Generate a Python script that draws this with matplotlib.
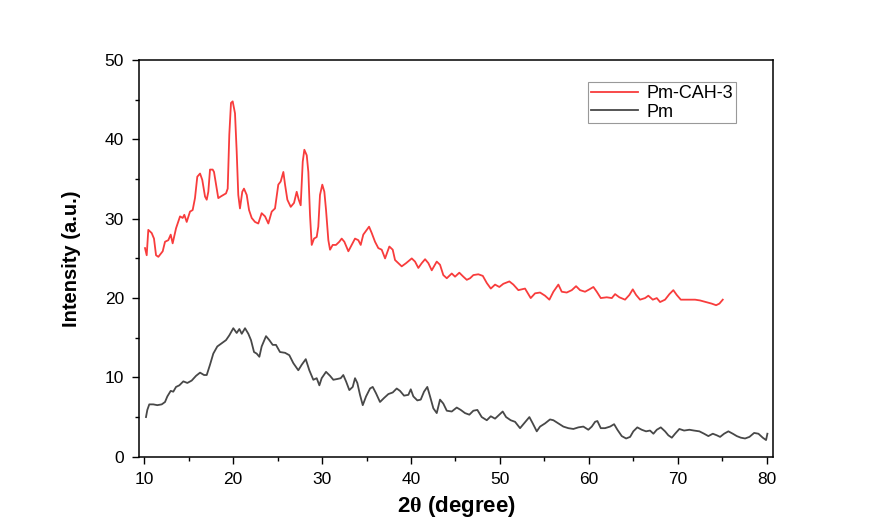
import numpy as np
import matplotlib
matplotlib.use("Agg")
import matplotlib.pyplot as plt
from matplotlib.ticker import MultipleLocator

plt.rcParams["font.family"] = ["Liberation Sans", "DejaVu Sans"]
plt.rcParams["mathtext.fontset"] = "custom"
plt.rcParams["mathtext.rm"] = "Liberation Serif:bold"
plt.rcParams["mathtext.it"] = "Liberation Serif:bold"
plt.rcParams["mathtext.bf"] = "Liberation Serif:bold"

# Pm-CAH-3 (red)
red_x = [10.08, 10.27, 10.45, 10.83, 11.09, 11.32, 11.58, 12.07, 12.33, 12.7,
         12.97, 13.19, 13.57, 14.02, 14.32, 14.5, 14.77, 15.14, 15.44, 15.7,
         15.96, 16.27, 16.52, 16.83, 17.02, 17.2, 17.39, 17.69, 17.84, 18.07,
         18.32, 18.59, 18.89, 19.19, 19.38, 19.56, 19.75, 19.94, 20.2, 20.39,
         20.57, 20.76, 21.02, 21.21, 21.52, 21.78, 22.08, 22.45, 22.82, 23.2,
         23.58, 23.95, 24.33, 24.7, 25.07, 25.34, 25.64, 25.83, 26.09, 26.47,
         26.84, 27.14, 27.37, 27.59, 27.82, 28.0, 28.27, 28.45, 28.64, 28.83,
         29.09, 29.39, 29.57, 29.76, 30.02, 30.25, 30.44, 30.7, 30.89, 31.19,
         31.56, 31.93, 32.2, 32.5, 32.95, 33.33, 33.7, 34.07, 34.34, 34.63,
         35.02, 35.28, 35.58, 35.95, 36.32, 36.7, 37.08, 37.56, 37.94, 38.2,
         38.57, 38.95, 39.44, 40.08, 40.45, 40.82, 41.2, 41.58, 41.95, 42.33,
         42.89, 43.26, 43.63, 44.02, 44.58, 44.95, 45.43, 45.88, 46.27, 46.64,
         47.01, 47.57, 48.07, 48.52, 48.97, 49.45, 49.93, 50.38, 51.06, 51.51,
         52.07, 52.82, 53.46, 53.95, 54.51, 55.07, 55.56, 56.01, 56.57, 56.95,
         57.51, 58.08, 58.56, 59.01, 59.57, 60.06, 60.51, 60.89, 61.34, 62.01,
         62.58, 62.95, 63.43, 64.07, 64.56, 64.94, 65.31, 65.76, 66.32, 66.69,
         67.19, 67.64, 68.01, 68.57, 69.06, 69.5, 69.88, 70.34, 70.82, 71.38,
         71.95, 72.51, 73.18, 73.82, 74.31, 74.68, 75.06]
red_y = [26.3, 25.4, 28.6, 28.2, 27.5, 25.4, 25.2, 25.9, 27.1, 27.3,
         28.0, 26.9, 28.8, 30.3, 30.1, 30.5, 29.6, 30.9, 31.1, 32.6,
         35.3, 35.7, 34.9, 32.8, 32.4, 33.4, 36.2, 36.2, 35.9, 34.3,
         32.6, 32.8, 33.0, 33.2, 33.8, 40.6, 44.6, 44.8, 43.3, 38.5,
         33.0, 31.3, 33.4, 33.8, 33.0, 31.1, 30.1, 29.6, 29.4, 30.7,
         30.3, 29.4, 30.9, 31.3, 34.3, 34.7, 35.9, 34.3, 32.4, 31.5,
         32.0, 33.4, 32.4, 31.7, 37.2, 38.7, 38.0, 35.9, 30.4, 26.7,
         27.5, 27.7, 29.0, 33.0, 34.3, 33.4, 31.1, 27.3, 26.1, 26.7,
         26.7, 27.1, 27.5, 27.1, 25.9, 26.7, 27.5, 27.3, 26.7, 28.0,
         28.6, 29.0, 28.2, 27.1, 26.3, 26.1, 25.0, 26.5, 26.1, 24.8,
         24.4, 24.0, 24.4, 25.0, 24.6, 23.8, 24.4, 24.9, 24.4, 23.5,
         24.6, 24.2, 22.9, 22.5, 23.1, 22.7, 23.2, 22.7, 22.3, 22.5,
         22.9, 23.0, 22.8, 21.9, 21.2, 21.7, 21.4, 21.8, 22.1, 21.7,
         21.0, 21.2, 20.0, 20.6, 20.7, 20.3, 19.8, 20.8, 21.7, 20.8,
         20.7, 21.0, 21.5, 21.0, 20.8, 21.1, 21.4, 20.8, 20.0, 20.1,
         20.0, 20.5, 20.1, 19.8, 20.4, 21.1, 20.4, 19.8, 20.0, 20.3,
         19.8, 20.0, 19.5, 19.8, 20.5, 21.0, 20.4, 19.8, 19.8, 19.8,
         19.8, 19.7, 19.5, 19.3, 19.1, 19.3, 19.8]

# Pm (dark grey)
blk_x = [10.19, 10.34, 10.56, 11.01, 11.46, 11.96, 12.33, 12.59, 12.97, 13.26,
         13.57, 13.94, 14.39, 14.84, 15.33, 15.82, 16.27, 16.72, 17.02, 17.39,
         17.76, 18.21, 18.71, 19.19, 19.56, 20.01, 20.39, 20.69, 20.96, 21.33,
         21.7, 22.0, 22.34, 22.64, 22.94, 23.2, 23.69, 24.06, 24.44, 24.81,
         25.26, 25.83, 26.31, 26.76, 27.32, 27.71, 28.16, 28.56, 29.01, 29.39,
         29.69, 29.95, 30.44, 30.89, 31.26, 31.71, 32.09, 32.38, 32.69, 33.06,
         33.44, 33.7, 33.96, 34.26, 34.57, 34.94, 35.39, 35.69, 36.06, 36.51,
         36.96, 37.45, 37.94, 38.39, 38.76, 39.21, 39.7, 39.97, 40.26, 40.71,
         41.09, 41.46, 41.83, 42.14, 42.51, 42.89, 43.26, 43.63, 44.02, 44.58,
         45.14, 45.59, 46.07, 46.56, 47.01, 47.46, 47.95, 48.52, 48.97, 49.45,
         49.93, 50.31, 50.69, 51.21, 51.7, 52.26, 52.71, 53.31, 53.69, 54.14,
         54.51, 55.07, 55.63, 56.01, 56.57, 57.13, 57.69, 58.26, 58.82, 59.38,
         59.94, 60.33, 60.7, 60.96, 61.34, 61.82, 62.39, 62.84, 63.21, 63.7,
         64.19, 64.64, 65.0, 65.45, 65.95, 66.43, 66.88, 67.26, 67.64, 68.09,
         68.57, 68.94, 69.33, 69.7, 70.18, 70.71, 71.31, 71.83, 72.43, 72.96,
         73.44, 73.94, 74.39, 74.76, 75.21, 75.69, 76.19, 76.64, 77.09, 77.57,
         78.06, 78.59, 79.07, 79.56, 79.93, 80.08]
blk_y = [5.0, 5.9, 6.6, 6.6, 6.5, 6.6, 6.9, 7.6, 8.3, 8.2,
         8.8, 9.0, 9.5, 9.3, 9.6, 10.2, 10.6, 10.3, 10.3, 11.6,
         13.0, 13.9, 14.3, 14.7, 15.3, 16.2, 15.6, 16.1, 15.5, 16.2,
         15.5, 14.7, 13.2, 13.0, 12.6, 13.9, 15.2, 14.7, 14.1, 14.1,
         13.2, 13.1, 12.8, 11.8, 10.9, 11.6, 12.3, 10.9, 9.7, 9.9,
         9.0, 9.9, 10.7, 10.2, 9.7, 9.8, 9.9, 10.3, 9.5, 8.4,
         8.8, 9.9, 9.3, 7.8, 6.5, 7.6, 8.6, 8.8, 8.0, 6.9,
         7.4, 7.9, 8.1, 8.6, 8.3, 7.7, 7.8, 8.5, 7.6, 7.1,
         7.2, 8.2, 8.8, 7.6, 6.1, 5.5, 7.2, 6.7, 5.8, 5.7,
         6.2, 5.9, 5.5, 5.3, 5.8, 5.9, 5.0, 4.6, 5.1, 4.8,
         5.3, 5.7, 5.0, 4.6, 4.4, 3.6, 4.2, 5.0, 4.2, 3.2,
         3.8, 4.2, 4.7, 4.6, 4.2, 3.8, 3.6, 3.5, 3.7, 3.8,
         3.4, 3.8, 4.4, 4.5, 3.6, 3.6, 3.8, 4.1, 3.4, 2.6,
         2.3, 2.5, 3.2, 3.7, 3.4, 3.2, 3.3, 2.9, 3.4, 3.7,
         3.2, 2.7, 2.4, 2.9, 3.5, 3.3, 3.4, 3.3, 3.2, 2.9,
         2.6, 2.9, 2.7, 2.5, 2.9, 3.2, 2.9, 2.6, 2.4, 2.3,
         2.5, 3.0, 2.9, 2.4, 2.1, 2.9]

fig = plt.figure(figsize=(8.79, 5.32), dpi=100)
ax = fig.add_axes([0.1585, 0.1415, 0.7205, 0.7455])

ax.plot(red_x, red_y, color="#f83c3c", lw=1.3, label="Pm-CAH-3")
ax.plot(blk_x, blk_y, color="#484848", lw=1.3, label="Pm")

ax.set_xlim(9.44, 80.67)
ax.set_ylim(0, 50)
ax.xaxis.set_major_locator(MultipleLocator(10))
ax.xaxis.set_minor_locator(MultipleLocator(5))
ax.yaxis.set_major_locator(MultipleLocator(10))
ax.yaxis.set_minor_locator(MultipleLocator(5))
ax.tick_params(which="major", direction="out", length=5, width=1, labelsize=12.5, pad=6)
ax.tick_params(which="minor", direction="out", length=3, width=1)
for s in ax.spines.values():
    s.set_linewidth(1.1)

ax.set_xlabel(r"2$\mathrm{\theta}$ (degree)", fontsize=16, fontweight="bold", labelpad=5)
ax.set_ylabel("Intensity (a.u.)", fontsize=14.5, fontweight="bold", labelpad=17)

leg = ax.legend(loc="upper right", bbox_to_anchor=(0.942, 0.9445), borderaxespad=0,
                fontsize=13, handlelength=2.6, labelspacing=0.1, borderpad=0.15,
                fancybox=False, handletextpad=0.5)
leg.get_frame().set_edgecolor("#808080")
leg.get_frame().set_linewidth(0.8)

plt.savefig("out.png", dpi=100)
